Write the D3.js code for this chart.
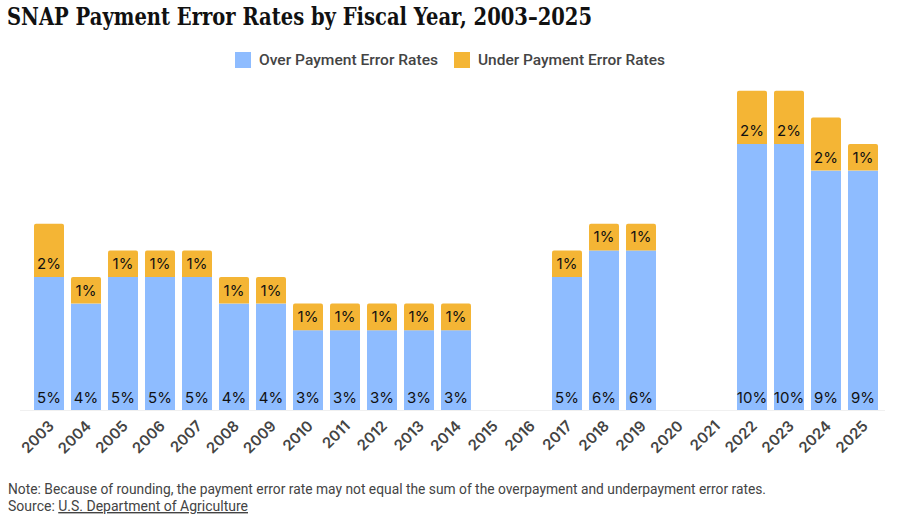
<!DOCTYPE html>
<html>
<head>
<meta charset="utf-8">
<script src="https://cdn.jsdelivr.net/npm/d3@7"></script>
<style>
  body { margin: 0; background: #fff; }
  svg { display: block; }
  .title { font-family: "DejaVu Serif", "Liberation Serif", serif; font-weight: bold; fill: #111; }
  .legend text, .note { font-family: Roboto, "Liberation Sans", sans-serif; fill: #444; }
  .bar-label { font-family: Inter, "Liberation Sans", sans-serif; fill: #111; }
  .x-axis text { font-family: Inter, "Liberation Sans", sans-serif; font-weight: 600; fill: #444; }
</style>
</head>
<body>
<svg id="chart"></svg>
<script>
// fiscal years (2015, 2016, 2020, 2021 have no reported rate)
const years = ['2003','2004','2005','2006','2007','2008','2009','2010','2011','2012','2013','2014',
  '2015','2016','2017','2018','2019','2020','2021','2022','2023','2024','2025'];
const overRates = [5,4,5,5,5,4,4,3,3,3,3,3,null,null,5,6,6,null,null,10,10,9,9];
const underRates = [2,1,1,1,1,1,1,1,1,1,1,1,null,null,1,1,1,null,null,2,2,2,1];
const seriesNames = ['Over Payment Error Rates', 'Under Payment Error Rates'];
const seriesColors = ['#8ebcff', '#f4b535'];

const width = 900, height = 520;
const svg = d3.select('#chart').attr('width', width).attr('height', height);

const rows = years.map((y, i) => ({ year: y, over: overRates[i], under: underRates[i] }));
const present = rows.filter(d => d.over != null);

const x = d3.scaleBand()
  .domain(years)
  .range([30.5, 881.5])
  .paddingInner(7 / 37)
  .paddingOuter(3.5 / 37);

const y = d3.scaleLinear()
  .domain([0, 12])
  .range([410, 90.8]);

// title
svg.append('text')
  .attr('class', 'title')
  .attr('x', 7).attr('y', 25)
  .attr('font-size', 24)
  .attr('textLength', 585)
  .attr('lengthAdjust', 'spacingAndGlyphs')
  .text('SNAP Payment Error Rates by Fiscal Year, 2003–2025');

// legend
const legendItems = [
  { x: 235, tx: 259, w: 179 },
  { x: 454, tx: 478, w: 187 }
];
const legend = svg.append('g').attr('class', 'legend');
legendItems.forEach((d, i) => {
  legend.append('rect')
    .attr('x', d.x).attr('y', 52).attr('width', 16).attr('height', 16)
    .attr('fill', seriesColors[i]);
  legend.append('text')
    .attr('x', d.tx).attr('y', 65)
    .attr('font-size', 15).attr('font-weight', 500)
    .attr('textLength', d.w).attr('lengthAdjust', 'spacingAndGlyphs')
    .text(seriesNames[i]);
});

// faint baseline
svg.append('line')
  .attr('x1', 20).attr('x2', 885)
  .attr('y1', y(0) + 0.5).attr('y2', y(0) + 0.5)
  .attr('stroke', '#f0f0f0');

function roundedTop(x0, y0, w, h, r) {
  return `M${x0},${y0 + h}V${y0 + r}Q${x0},${y0} ${x0 + r},${y0}H${x0 + w - r}Q${x0 + w},${y0} ${x0 + w},${y0 + r}V${y0 + h}Z`;
}

const bars = svg.append('g');

bars.selectAll('.over')
  .data(present)
  .join('rect')
  .attr('class', 'over')
  .attr('x', d => x(d.year))
  .attr('y', d => y(d.over))
  .attr('width', x.bandwidth())
  .attr('height', d => y(0) - y(d.over))
  .attr('fill', seriesColors[0]);

bars.selectAll('.under')
  .data(present)
  .join('path')
  .attr('class', 'under')
  .attr('d', d => roundedTop(x(d.year), y(d.over + d.under), x.bandwidth(), y(d.over) - y(d.over + d.under), 2))
  .attr('fill', seriesColors[1]);

// value labels
bars.selectAll('.lbl-over')
  .data(present)
  .join('text')
  .attr('class', 'bar-label')
  .attr('x', d => x(d.year) + x.bandwidth() / 2)
  .attr('y', y(0) - 7)
  .attr('text-anchor', 'middle')
  .attr('font-size', 15)
  .text(d => d.over + '%');

bars.selectAll('.lbl-under')
  .data(present)
  .join('text')
  .attr('class', 'bar-label')
  .attr('x', d => x(d.year) + x.bandwidth() / 2)
  .attr('y', d => y(d.over) - 8)
  .attr('text-anchor', 'middle')
  .attr('font-size', 15)
  .text(d => d.under + '%');

// x axis
const xAxisG = svg.append('g')
  .attr('class', 'x-axis')
  .attr('transform', `translate(0,${y(0)})`)
  .call(d3.axisBottom(x).tickSize(0).tickPadding(0))
  .call(g => g.select('.domain').remove());

xAxisG.selectAll('text')
  .attr('font-size', 15)
  .attr('text-anchor', 'end')
  .attr('dy', null)
  .attr('y', 0)
  .attr('transform', 'translate(6,17) rotate(-45)');

// footnote
svg.append('text')
  .attr('class', 'note')
  .attr('x', 8).attr('y', 494)
  .attr('font-size', 14)
  .attr('textLength', 758).attr('lengthAdjust', 'spacingAndGlyphs')
  .text('Note: Because of rounding, the payment error rate may not equal the sum of the overpayment and underpayment error rates.');

const src = svg.append('text')
  .attr('class', 'note')
  .attr('x', 8).attr('y', 511)
  .attr('font-size', 14);
src.append('tspan').text('Source: ');
src.append('tspan').attr('text-decoration', 'underline').text('U.S. Department of Agriculture');
</script>
</body>
</html>
